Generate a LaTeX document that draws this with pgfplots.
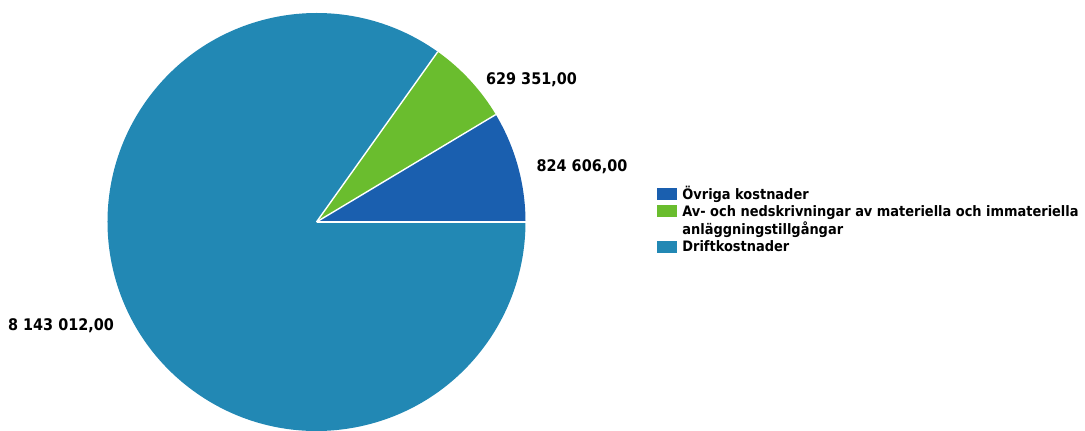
\documentclass[border=0pt]{standalone}
\usepackage{pgfplots}
\pgfplotsset{compat=1.18}
\usepackage{pgfplotstable}
\usepackage{fontspec}
\newfontfamily\lab{DejaVu Sans Condensed Bold}

\definecolor{cOvr}{RGB}{26,95,175}
\definecolor{cAv}{RGB}{106,189,46}
\definecolor{cDrift}{RGB}{34,136,180}

% kostnader (kr)
\pgfplotstableread{
post value
Ovriga 824606
Av 629351
Drift 8143012
}\pietable

\pgfplotstablegetelem{0}{value}\of\pietable \let\vA\pgfplotsretval
\pgfplotstablegetelem{1}{value}\of\pietable \let\vB\pgfplotsretval
\pgfplotstablegetelem{2}{value}\of\pietable \let\vC\pgfplotsretval
\edef\aA{\fpeval{360*\vA/(\vA+\vB+\vC)}}
\edef\aB{\fpeval{\aA+360*\vB/(\vA+\vB+\vC)}}

\begin{document}
\begin{tikzpicture}
\path[use as bounding box] (0,0) rectangle (542.5pt,215pt);
\begin{axis}[
    at={(0,0)}, anchor=south west,
    scale only axis,
    width=542.5pt, height=215pt,
    xmin=0, xmax=1085, ymin=0, ymax=430,
    hide axis,
    clip=false,
]
% cirkel: centrum (316.5,208), radie 209 px = 104.5pt
\fill[cOvr] (axis cs:316.5,208) -- ++(0:104.5pt) arc[start angle=0, end angle=\aA, radius=104.5pt] -- cycle;
\fill[cAv] (axis cs:316.5,208) -- ++(\aA:104.5pt) arc[start angle=\aA, end angle=\aB, radius=104.5pt] -- cycle;
\fill[cDrift] (axis cs:316.5,208) -- ++(\aB:104.5pt) arc[start angle=\aB, end angle=360, radius=104.5pt] -- cycle;
\draw[white, line width=0.7pt] (axis cs:316.5,208) -- ++(0:104.5pt);
\draw[white, line width=0.7pt] (axis cs:316.5,208) -- ++(\aA:104.5pt);
\draw[white, line width=0.7pt] (axis cs:316.5,208) -- ++(\aB:104.5pt);

% etiketter
\begin{scope}[every node/.style={font=\lab\fontsize{8}{10}\selectfont, inner sep=0pt}]
\node at (axis cs:531.5,350) {629 351,00};
\node at (axis cs:582,263.5) {824 606,00};
\node at (axis cs:61,104.5) {8 143 012,00};
\end{scope}

% legend
\begin{scope}[every node/.style={font=\lab\fontsize{7.2}{9}\selectfont, inner sep=0pt}]
\fill[cOvr] (axis cs:657,242) rectangle (axis cs:677,230);
\fill[cAv] (axis cs:657,225) rectangle (axis cs:677,213);
\fill[cDrift] (axis cs:657,189) rectangle (axis cs:677,177);
\node[anchor=base west] at (axis cs:682,231) {Övriga kostnader};
\node[anchor=base west] at (axis cs:682,213.5) {Av- och nedskrivningar av materiella och immateriella};
\node[anchor=base west] at (axis cs:682,196) {anläggningstillgångar};
\node[anchor=base west] at (axis cs:682,178.3) {Driftkostnader};
\end{scope}
\end{axis}
\end{tikzpicture}
\end{document}
